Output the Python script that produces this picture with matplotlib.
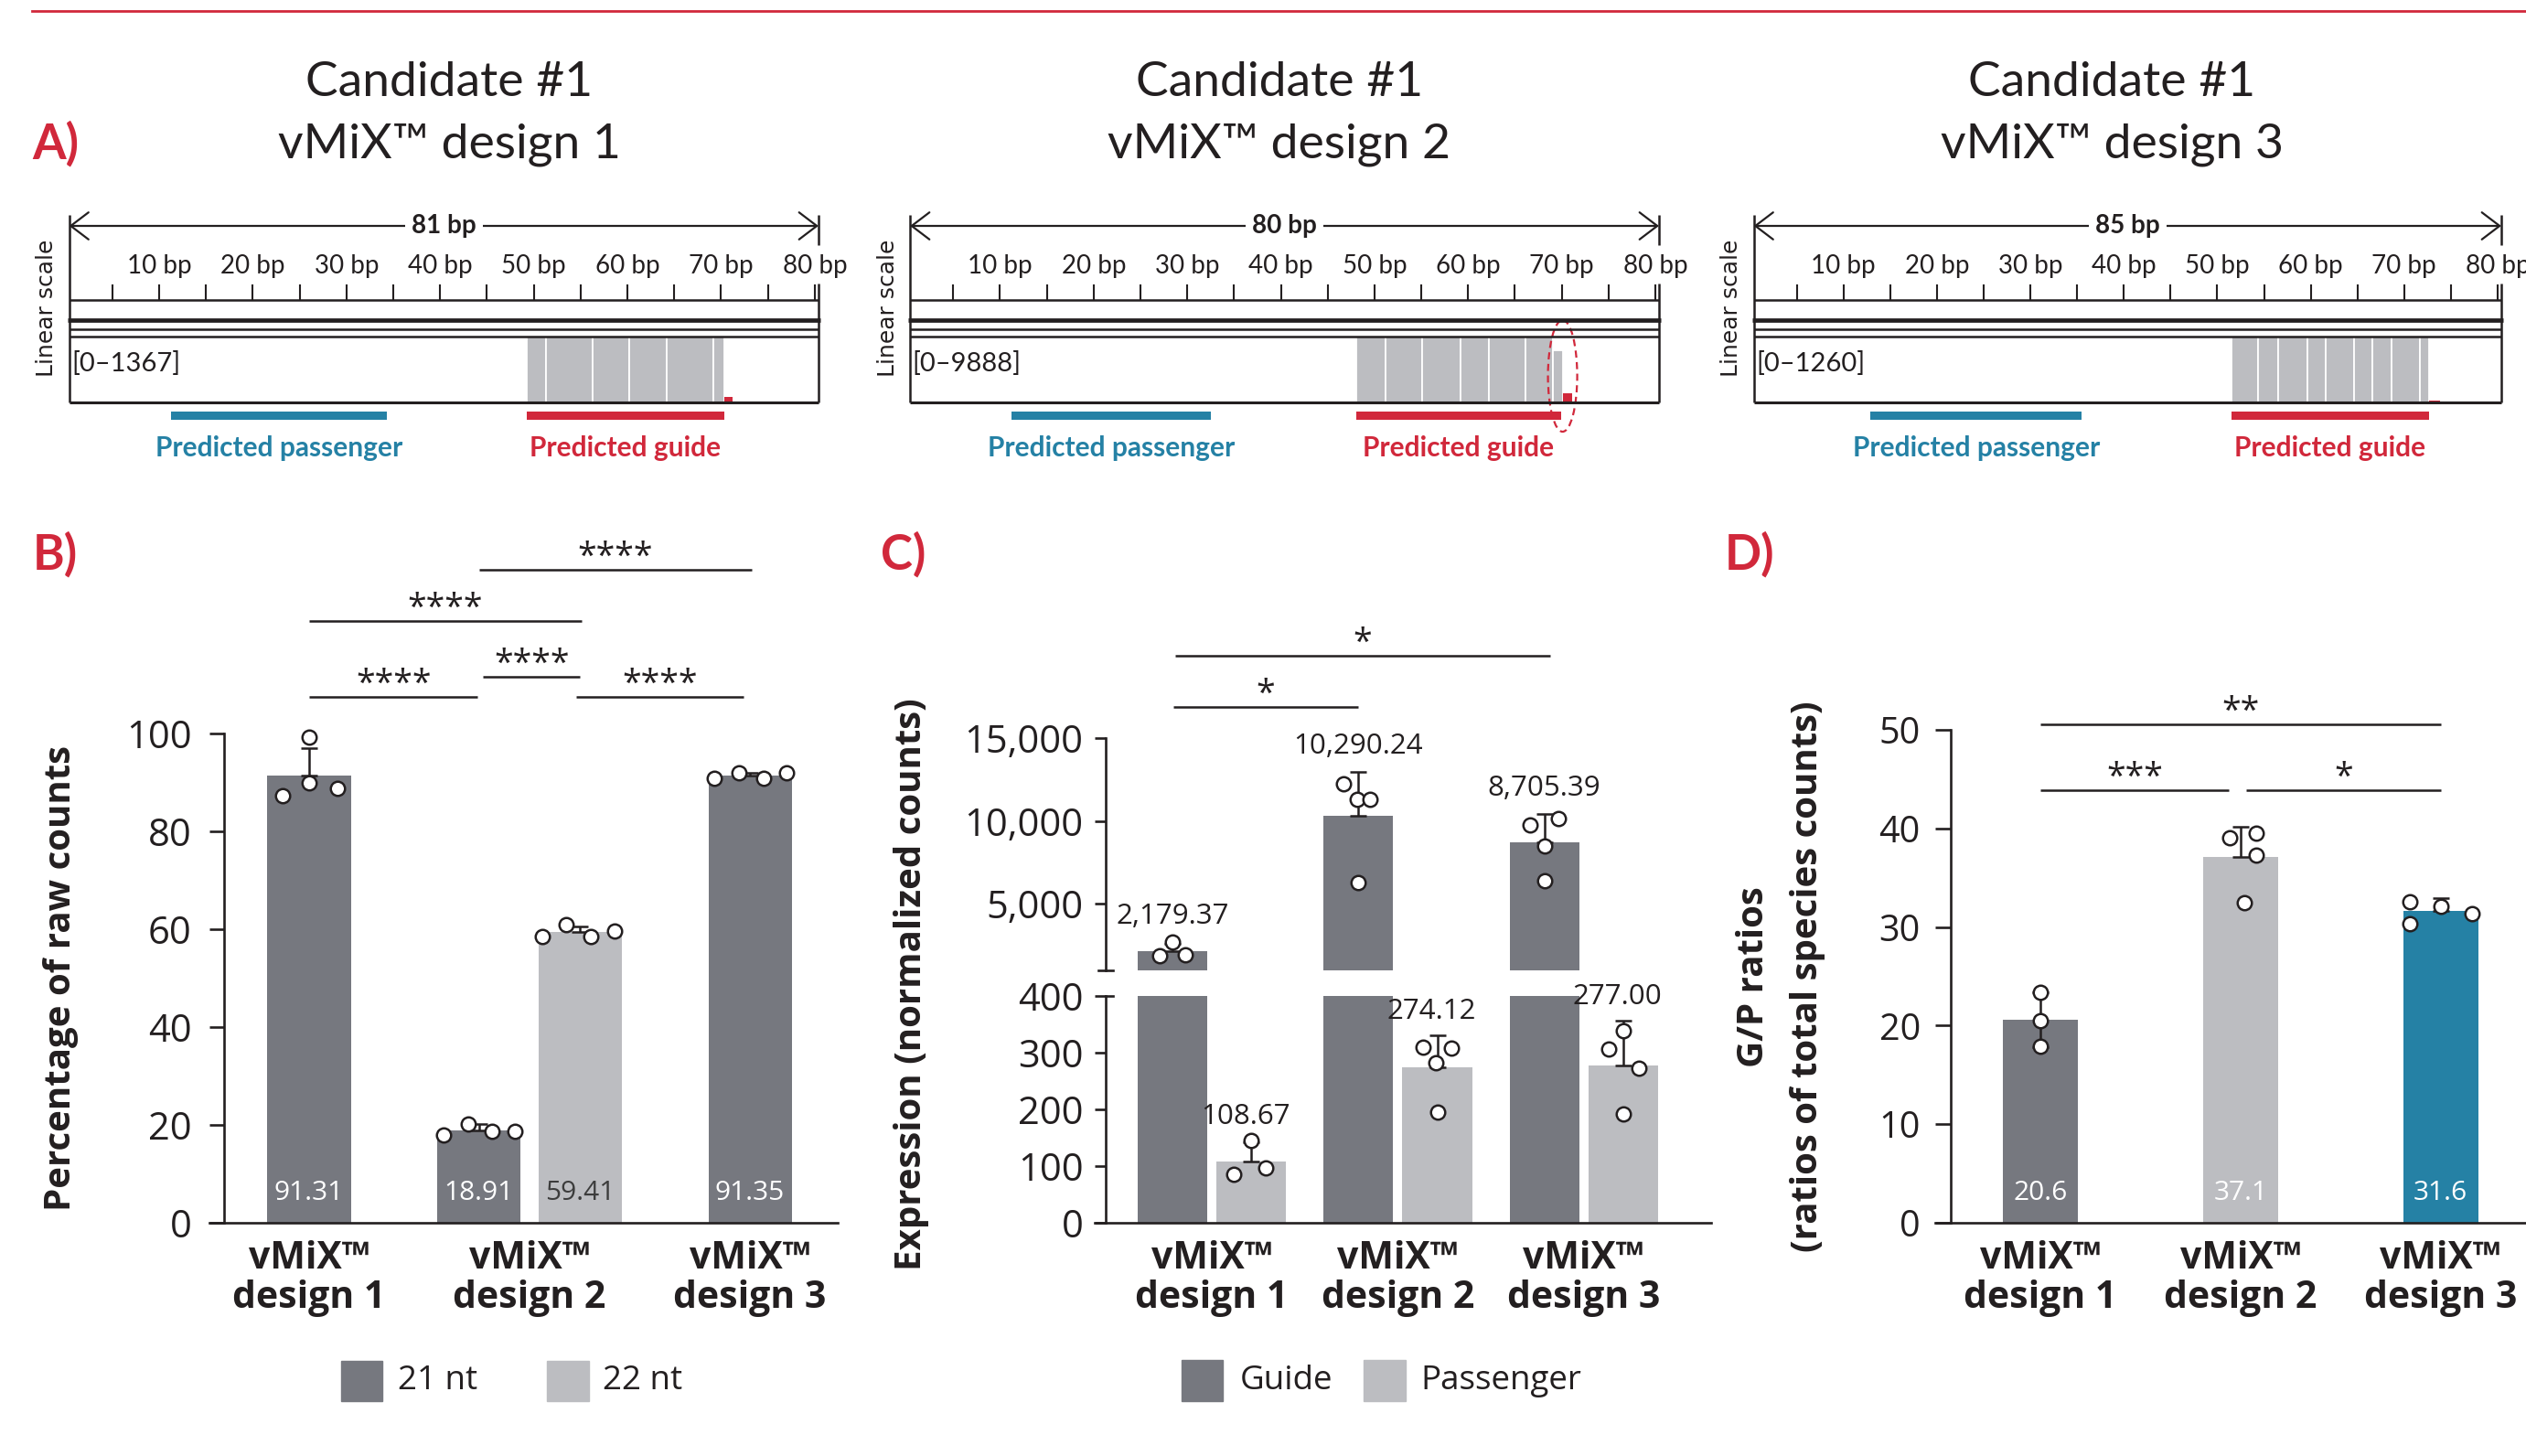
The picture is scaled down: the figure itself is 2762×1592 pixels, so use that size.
import numpy as np
import matplotlib
matplotlib.use("Agg")
import matplotlib.pyplot as plt
from matplotlib.patches import Rectangle, Ellipse
from matplotlib.lines import Line2D

# ============================ DATA ============================
designs = ["vMiX™\ndesign 1", "vMiX™\ndesign 2", "vMiX™\ndesign 3"]
title_top = "Candidate #1"
title_designs = ["vMiX™ design 1", "vMiX™ design 2", "vMiX™ design 3"]

# ---- Panel A (IGV-like coverage tracks) ----
amplicon_len = ["81 bp", "80 bp", "85 bp"]
coverage_range = ["[0–1367]", "[0–9888]", "[0–1260]"]
ruler_labels = [10, 20, 30, 40, 50, 60, 70, 80]
ruler_minor = [5, 10, 15, 20, 25, 30, 35, 40, 45, 50, 55, 60, 65, 70, 75, 80]

guide_cov_edges = [
    [49.3, 51.3, 56.3, 60.2, 64.2, 69.2, 70.3],
    [48.1, 51.2, 55.1, 59.2, 62.2, 66.1, 69.1, 70.1],
    [51.5, 54.4, 56.5, 59.6, 61.6, 64.6, 66.6, 68.7, 71.7, 72.7],
]
guide_cov_heights = [
    [1, 1, 1, 1, 1, 1],
    [1, 1, 1, 1, 1, 1, 0.79],
    [1, 1, 1, 1, 1, 1, 1, 1, 1],
]
tail_start = [70.3, 70.1, 72.7]
tail_end = [71.2, 71.1, 73.8]
tail_height = [0.085, 0.14, 0.03]
pass_cov_edges = [
    [12.3, 13.4, 18.3, 22.3, 26.3, 31.3, 35.3],
    [11.2, 13.3, 16.2, 18.3, 20.4, 22.5, 24.5, 26.5, 28.6, 31.6, 32.6],
    [14.3, 16.1, 17.2, 18.1, 20.1, 21.9, 22.9, 23.9, 24.9, 25.9, 27.8, 28.8,
     30.7, 32.6, 34.4, 35.4, 36.4],
]
pass_cov_height = [0.03, 0.03, 0.03]
pred_pass_start = [11.3, 11.2, 12.9]
pred_pass_end = [34.3, 32.5, 35.5]
pred_guide_start = [49.3, 48.1, 51.5]
pred_guide_end = [70.3, 69.9, 72.7]
highlight_bp = [None, 70.1, None]

# ---- Panel B (% of raw counts) ----
b_21nt = [91.31, 18.91, 91.35]
b_22nt = [np.nan, 59.41, np.nan]
b_21nt_err = [5.6, 1.2, 0.5]
b_22nt_err = [np.nan, 1.1, np.nan]
b_21nt_reps = [[87.3, 89.8, 88.8, 99.3], [18.0, 20.2, 18.7, 18.7], [90.8, 91.9, 90.8, 91.9]]
b_22nt_reps = [[], [58.5, 61.0, 58.5, 59.7], []]
b_legend = ["21 nt", "22 nt"]
b_sig = ["****", "****", "****", "****", "****"]

# ---- Panel C (expression, normalized counts) ----
c_guide = [2179.37, 10290.24, 8705.39]
c_pass = [108.67, 274.12, 277.00]
c_guide_err = [430, 2697, 1723]
c_pass_err = [33, 57, 80]
c_guide_reps = [[1900, 2700, 1940], [12230, 11330, 11330, 6270], [9790, 8480, 10165, 6385]]
c_pass_reps = [[85, 145, 96], [310, 283, 308, 195.5], [306, 338, 272, 192]]
c_top_ticks = [5000, 10000, 15000]
c_bot_ticks = [0, 100, 200, 300, 400]
c_legend = ["Guide", "Passenger"]
c_sig = ["*", "*"]

# ---- Panel D (G/P ratios) ----
d_vals = [20.6, 37.1, 31.6]
d_err_up = [2.8, 3.1, 1.3]
d_err_dn = [2.8, 0, 0]
d_reps = [[23.4, 20.5, 17.9], [39.1, 39.5, 37.3, 32.5], [32.6, 30.3, 32.1, 31.4]]
d_ticks = [0, 10, 20, 30, 40, 50]
d_sig = ["**", "***", "*"]

# ============================ STYLE / LAYOUT ============================
W, H, DPI = 2762, 1592, 100
PT = 0.72  # points per pixel at 100 dpi
RED = "#d1283b"
TEAL = "#2581a5"
DARK = "#76787f"
LIGHT = "#bcbdc1"
INK = "#231f20"
CAL = ["Lato", "DejaVu Sans"]
SANS = ["Open Sans", "DejaVu Sans"]
XLAB_FS = 29.5
YLAB_FS = 29

fig = plt.figure(figsize=(W / DPI, H / DPI), dpi=DPI)
fig.patch.set_facecolor("white")


def px_axes(x0, y0, x1, y1):
    return fig.add_axes([x0 / W, 1 - y1 / H, (x1 - x0) / W, (y1 - y0) / H])


def ftext(x, y, s, **kw):
    return fig.text(x / W, 1 - y / H, s, **kw)


def frect(x0, y0, x1, y1, color):
    fig.patches.append(Rectangle((x0 / W, 1 - y1 / H), (x1 - x0) / W, (y1 - y0) / H,
                                 transform=fig.transFigure, color=color, zorder=2))


# top red rule
fig.add_artist(Line2D([35 / W, 1.0], [1 - 12 / H] * 2, color=RED, lw=2.0))

# panel letters
for lab, x, y in [("A)", 35, 174), ("B)", 36, 623), ("C)", 963, 623), ("D)", 1886, 623)]:
    ftext(x, y, lab, color=RED, fontsize=38, fontweight="bold", family=CAL,
          ha="left", va="baseline")

# ============================ PANEL A ============================
TRACK_X = [(75.5, 895), (995, 1814), (1917.5, 2735)]
TITLE_X = [491, 1399, 2309]
BP_LIM = (0.38, 80.4)
for i in range(3):
    ftext(TITLE_X[i], 105, title_top, fontsize=38.5, family=CAL, color=INK, ha="center", va="baseline")
    ftext(TITLE_X[i], 173, title_designs[i], fontsize=38.5, family=CAL, color=INK, ha="center", va="baseline")

    x0, x1 = TRACK_X[i]
    ftext(x0 - 24, 337, "Linear scale", rotation=90, fontsize=18, family=["DejaVu Sans"],
          color=INK, ha="center", va="center")

    # coverage (inner axes, drawn under the frame)
    cov = px_axes(x0, 368, x1, 440)
    cov.set_xlim(*BP_LIM)
    cov.set_ylim(0, 1)
    cov.axis("off")
    e = np.array(guide_cov_edges[i])
    cov.bar(e[:-1], guide_cov_heights[i], width=np.diff(e), align="edge",
            color=LIGHT, edgecolor="white", linewidth=1.3)
    pe = np.array(pass_cov_edges[i])
    cov.bar(pe[:-1], pass_cov_height[i], width=np.diff(pe), align="edge",
            color="#c6c6c8", edgecolor="white", linewidth=0.6)
    cov.bar(tail_start[i], tail_height[i], width=tail_end[i] - tail_start[i],
            align="edge", color=RED, linewidth=0)

    ax = px_axes(x0 - 30, 225, x1 + 40, 515)
    L, R = BP_LIM
    span = (R - L) / (x1 - x0)
    ax.set_xlim(L - 30 * span, R + 40 * span)
    ax.set_ylim(515, 225)
    ax.axis("off")
    ax.set_zorder(3)
    ax.patch.set_visible(False)

    ax.annotate("", xy=(R, 247), xytext=(L, 247),
                arrowprops=dict(arrowstyle="<->,head_length=0.5,head_width=0.38", lw=1.6,
                                color=INK, shrinkA=0, shrinkB=0, mutation_scale=28))
    ax.text((L + R) / 2, 247, amplicon_len[i], ha="center", va="center", fontsize=20,
            fontweight="bold", family=CAL, color=INK,
            bbox=dict(facecolor="white", edgecolor="none", pad=5))
    ax.vlines(L, 235, 440, color=INK, lw=1.8)
    ax.vlines(R, 235, 268, color=INK, lw=1.8)
    ax.vlines(R, 310, 440, color=INK, lw=1.8)
    ax.vlines(ruler_minor, 311, 328, color=INK, lw=1.5)
    for t in ruler_labels:
        ax.text(t, 291, f"{t} bp", ha="center", va="center", fontsize=20, family=CAL, color=INK)
    ax.hlines([328, 360, 368], L, R, color=INK, lw=1.8)
    ax.hlines(350, L - 0.15, R + 0.15, color=INK, lw=3.4)
    ax.hlines(440, L, R, color=INK, lw=2.2)
    ax.text(L + 0.25, 397, coverage_range[i], ha="left", va="center", fontsize=21,
            family=CAL, color=INK)

    ax.barh(454, pred_pass_end[i] - pred_pass_start[i], left=pred_pass_start[i], height=9,
            color=TEAL, linewidth=0)
    ax.barh(454, pred_guide_end[i] - pred_guide_start[i], left=pred_guide_start[i], height=9,
            color=RED, linewidth=0)
    ax.text((pred_pass_start[i] + pred_pass_end[i]) / 2, 490, "Predicted passenger",
            ha="center", va="center", fontsize=21.5, fontweight="bold", family=CAL, color=TEAL)
    ax.text((pred_guide_start[i] + pred_guide_end[i]) / 2, 490, "Predicted guide",
            ha="center", va="center", fontsize=21.5, fontweight="bold", family=CAL, color=RED)
    if highlight_bp[i] is not None:
        ax.add_patch(Ellipse((highlight_bp[i], 411), width=32 * span, height=122, fill=False,
                             edgecolor=RED, lw=1.6, ls=(0, (3.5, 2.2))))


# ============================ helpers for bar panels ============================
def style_bar_axes(ax, tick_len, pad, labelsize):
    ax.spines["top"].set_visible(False)
    ax.spines["right"].set_visible(False)
    for s in ("left", "bottom"):
        ax.spines[s].set_linewidth(1.9)
        ax.spines[s].set_color(INK)
    ax.tick_params(axis="y", direction="out", length=tick_len, width=1.9, color=INK,
                   labelsize=labelsize, pad=pad, labelcolor=INK)
    ax.tick_params(axis="x", length=0, pad=14, labelcolor=INK)
    ax.patch.set_visible(False)
    for lab in ax.get_yticklabels():
        lab.set_family(SANS)


def set_xlabels(ax, pos):
    ax.set_xticks(pos)
    ax.set_xticklabels(designs, fontsize=XLAB_FS, fontweight="bold", family=SANS, linespacing=1.05)


def points(ax, x, reps, offs):
    ax.scatter(np.asarray(offs[:len(reps)]) + x, reps, s=125, facecolor="white", edgecolor=INK,
               linewidths=1.8, zorder=5, clip_on=False)


def errup(ax, x, v, up, dn=0.0):
    ax.errorbar([x], [v], yerr=[[dn], [up]], fmt="none", ecolor=INK, elinewidth=1.8,
                capsize=6.5, capthick=1.8, zorder=4, clip_on=False)


def sig(ax, x0, x1, y, label, fs=27):
    ax.plot([x0, x1], [y, y], color=INK, lw=1.8, clip_on=False, solid_capstyle="butt")
    ax.annotate(label, xy=((x0 + x1) / 2, y), xytext=(0, 2), textcoords="offset points",
                ha="center", va="baseline", fontsize=fs, family=SANS, color=INK,
                annotation_clip=False)


def inbar_label(ax, x, text, color):
    ax.annotate(text, xy=(x, 0), xytext=(0, 33 * PT), textcoords="offset points",
                ha="center", va="center", fontsize=21.5, family=SANS, color=color)


# ============================ PANEL B ============================
axB = px_axes(229, 561, 916, 1337)
axB.set_xlim(-0.452, 2.398)
axB.set_ylim(0, 145)
gB = np.arange(3)
HALF = 0.23
BW = 0.378
JIT4 = [-0.16, -0.05, 0.06, 0.165]
for g in gB:
    two = not np.isnan(b_22nt[g])
    x21 = g - HALF if two else g
    axB.bar(x21, b_21nt[g], width=BW, color=DARK, zorder=2)
    errup(axB, x21, b_21nt[g], b_21nt_err[g])
    offs = [-0.12, 0.0, 0.13, 0.0] if g == 0 else JIT4
    points(axB, x21, b_21nt_reps[g], offs)
    inbar_label(axB, x21, f"{b_21nt[g]:.2f}", "white")
    if two:
        x22 = g + HALF
        axB.bar(x22, b_22nt[g], width=BW, color=LIGHT, zorder=2)
        errup(axB, x22, b_22nt[g], b_22nt_err[g])
        points(axB, x22, b_22nt_reps[g], [-0.17, -0.064, 0.046, 0.155])
        inbar_label(axB, x22, f"{b_22nt[g]:.2f}", "#3c3c3c")
axB.spines["left"].set_position(("data", -0.386))
axB.spines["left"].set_bounds(0, 100)
axB.set_yticks([0, 20, 40, 60, 80, 100])
style_bar_axes(axB, 11.5, 14, 30)
set_xlabels(axB, gB)
SIG_B = [(0.77, 2.01, 133.5), (0.0, 1.237, 123.0), (0.0, 0.765, 107.5),
         (0.79, 1.23, 111.6), (1.21, 1.97, 107.5)]
for (a, b, y), s in zip(SIG_B, b_sig):
    sig(axB, a, b, y, s)
ftext(67, 1070, "Percentage of raw counts", rotation=90, fontsize=YLAB_FS, fontweight="bold",
      family=SANS, color=INK, ha="center", va="center")
frect(373, 1488, 418, 1532, DARK)
ftext(435, 1510, b_legend[0], fontsize=26.5, family=SANS, color=INK, ha="left", va="center")
frect(598, 1488, 644, 1532, LIGHT)
ftext(659, 1510, b_legend[1], fontsize=26.5, family=SANS, color=INK, ha="left", va="center")

# ============================ PANEL C ============================
CX0, CX1 = 1197, 1871
XL = (-0.63, 2.685)
top_scale = (15000 - 1000) / (1061 - 807)  # counts per pixel in the upper segment
axCt = px_axes(CX0, 690, CX1, 1061)
axCt.set_ylim(1000, 1000 + (1061 - 690) * top_scale)
axCb = px_axes(CX0, 1089, CX1, 1337)
axCb.set_ylim(0, 400)
for a in (axCt, axCb):
    a.set_xlim(*XL)
gC = np.arange(3)
HC = 0.212
BWC = 0.374
SPX = -0.573
jitC_g = [[-0.068, 0.0, 0.068], [-0.079, -0.008, 0.062, 0.0], [-0.076, 0.0, 0.076, 0.0]]
jitC_p = [[-0.092, 0.0, 0.078], [-0.076, -0.006, 0.074, 0.0], [-0.078, 0.0, 0.083, 0.0]]
for g in gC:
    xg, xp = g - HC, g + HC
    axCt.bar(xg, c_guide[g], width=BWC, color=DARK, zorder=2)
    axCb.bar(xg, c_guide[g], width=BWC, color=DARK, zorder=2)
    axCb.bar(xp, c_pass[g], width=BWC, color=LIGHT, zorder=2)
    errup(axCt, xg, c_guide[g], c_guide_err[g])
    errup(axCb, xp, c_pass[g], c_pass_err[g])
    points(axCt, xg, c_guide_reps[g], jitC_g[g])
    points(axCb, xp, c_pass_reps[g], jitC_p[g])
    topg = max(max(c_guide_reps[g]), c_guide[g] + c_guide_err[g])
    axCt.annotate(f"{c_guide[g]:,.2f}", xy=(xg, topg), xytext=(0, 28 * PT),
                  textcoords="offset points", ha="center", va="center", fontsize=22.5,
                  family=SANS, color=INK)
    topp = max(max(c_pass_reps[g]), c_pass[g] + c_pass_err[g])
    axCb.annotate(f"{c_pass[g]:,.2f}", xy=(xp - 0.03, topp), xytext=(0, 26 * PT),
                  textcoords="offset points", ha="center", va="center", fontsize=22.5,
                  family=SANS, color=INK, annotation_clip=False)
axCt.spines["bottom"].set_visible(False)
axCt.set_xticks([])
axCt.spines["left"].set_position(("data", SPX))
axCt.spines["left"].set_bounds(1000, 15000)
axCt.set_yticks(c_top_ticks)
axCt.set_yticklabels([f"{t:,}" for t in c_top_ticks])
axCb.spines["left"].set_position(("data", SPX))
axCb.set_yticks(c_bot_ticks)
style_bar_axes(axCt, 8.3, 9, 30)
style_bar_axes(axCb, 8.3, 9, 30)
set_xlabels(axCb, gC)
dx = 8 / ((CX1 - CX0) / (XL[1] - XL[0]))
axCt.plot([SPX - dx, SPX + dx], [1000, 1000], color=INK, lw=1.9, clip_on=False)
axCb.plot([SPX, SPX + dx], [400, 400], color=INK, lw=1.9, clip_on=False)
SIG_C = [(-0.197, 1.82, 19966), (-0.207, 0.788, 16870)]
for (a, b, y), s in zip(SIG_C, c_sig):
    sig(axCt, a, b, y, s)
ftext(996, 1076, "Expression (normalized counts)", rotation=90, fontsize=YLAB_FS, fontweight="bold",
      family=SANS, color=INK, ha="center", va="center")
frect(1292, 1487, 1337, 1532, DARK)
ftext(1356, 1510, c_legend[0], fontsize=26.5, family=SANS, color=INK, ha="left", va="center")
frect(1491, 1487, 1537, 1532, LIGHT)
ftext(1553, 1510, c_legend[1], fontsize=26.5, family=SANS, color=INK, ha="left", va="center")

# ============================ PANEL D ============================
axD = px_axes(2116, 740, 2762, 1337)
axD.set_xlim(-0.526, 2.427)
axD.set_ylim(0, (1337 - 740) / 10.78)
gD = np.arange(3)
d_colors = [DARK, LIGHT, TEAL]
jitD = [[0.0, 0.0, 0.0], [-0.055, 0.079, 0.079, 0.02], [-0.152, -0.152, 0.004, 0.157]]
for g in gD:
    axD.bar(g, d_vals[g], width=0.375, color=d_colors[g], zorder=2)
    errup(axD, g, d_vals[g], d_err_up[g], d_err_dn[g])
    points(axD, g, d_reps[g], jitD[g])
    inbar_label(axD, g, f"{d_vals[g]:.1f}", "white")
axD.spines["left"].set_position(("data", -0.448))
axD.spines["left"].set_bounds(0, 50)
axD.set_yticks(d_ticks)
style_bar_axes(axD, 11.9, 12, 28.5)
set_xlabels(axD, gD)
SIG_D = [(0.0, 2.0, 50.6), (0.0, 0.94, 43.9), (1.03, 2.0, 43.9)]
for (a, b, y), s in zip(SIG_D, d_sig):
    sig(axD, a, b, y, s)
ftext(1917, 1068, "G/P ratios", rotation=90, fontsize=YLAB_FS, fontweight="bold",
      family=SANS, color=INK, ha="center", va="center")
ftext(1976, 1068, "(ratios of total species counts)", rotation=90, fontsize=YLAB_FS,
      fontweight="bold", family=SANS, color=INK, ha="center", va="center")

fig.savefig("out.png", dpi=DPI, facecolor="white")
